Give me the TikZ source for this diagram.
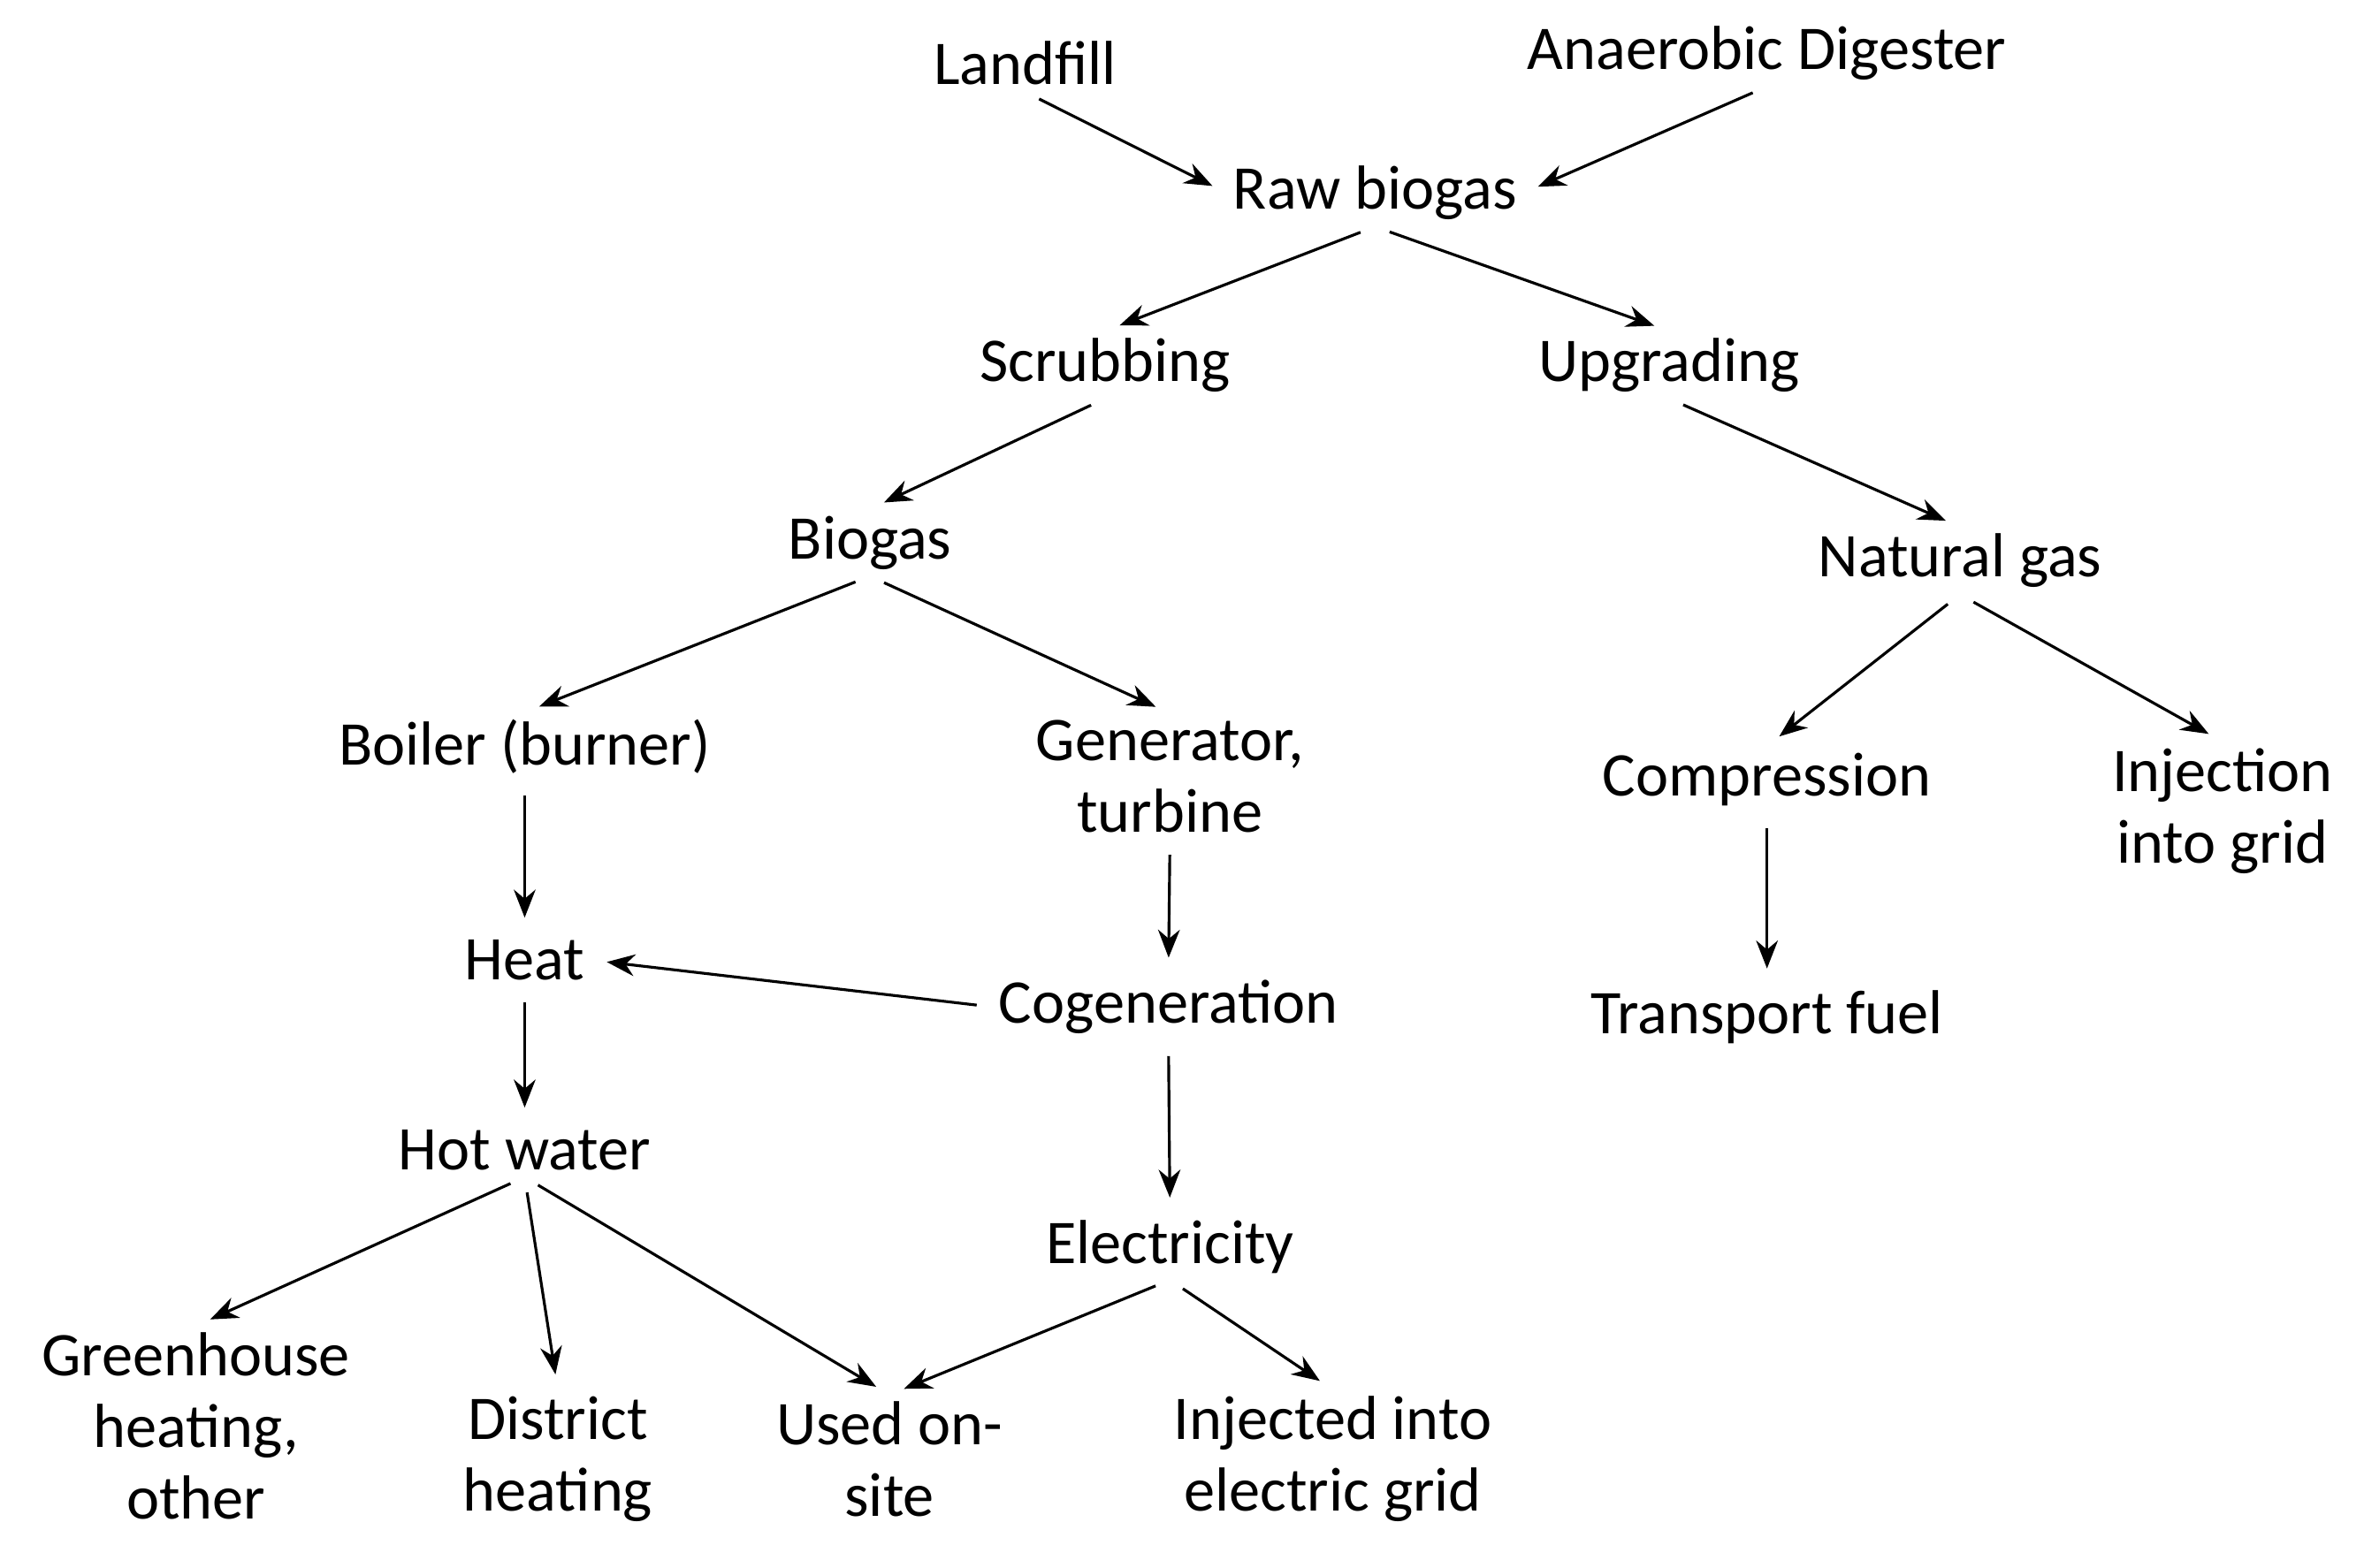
\documentclass[tikz,border=0pt]{standalone}
\usepackage{fontspec}
\setmainfont{Carlito}
\usetikzlibrary{arrows.meta}
\begin{document}
\begin{tikzpicture}[x=0.01705cm, y=-0.01705cm,
  box/.style={align=center, font=\fontsize{20}{23}\selectfont, inner sep=2pt},
  flow/.style={-{Stealth[length=9pt,width=7pt]}, line width=0.9pt, shorten >=5pt, shorten <=5pt}]
  \useasboundingbox (0,0) rectangle (1568,1040);

  % sources and treatment
  \node[box] (land) at (680,42) {Landfill};
  \node[box] (dig) at (1172,35) {Anaerobic Digester};
  \node[box] (raw) at (912,128) {Raw biogas};
  \node[box] (scrub) at (733,242) {Scrubbing};
  \node[box] (upg) at (1107,242) {Upgrading};
  \node[box] (bio) at (577,360) {Biogas};
  \node[box] (ng) at (1300,372) {Natural gas};

  % uses
  \node[box] (boiler) at (348,495) {Boiler (burner)};
  \node[box] (gen) at (776,515) {Generator,\\turbine};
  \node[box] (comp) at (1172,517) {Compression};
  \node[box] (inj) at (1474,538) {Injection\\into grid};
  \node[box] (heat) at (348,637) {Heat};
  \node[box] (cogen) at (775,668) {Cogeneration};
  \node[box] (fuel) at (1172,675) {Transport fuel};
  \node[box] (hot) at (348,763) {Hot water};
  \node[box] (elec) at (776,827) {Electricity};
  \node[box] (green) at (130,946) {Greenhouse\\heating,\\other};
  \node[box] (dist) at (370,968) {District\\heating};
  \node[box] (site) at (590,968) {Used on-\\site};
  \node[box] (egrid) at (884,968) {Injected into\\electric grid};

  % connectors
  \draw[flow] (land.south) -- (raw.west);
  \draw[flow] (dig.south) -- (raw.east);
  \draw[flow] (raw.south) -- (scrub.north);
  \draw[flow] (raw.south) -- (upg.north);
  \draw[flow] (scrub.south) -- (bio.north);
  \draw[flow] (upg.south) -- (ng.north);
  \draw[flow] (bio.south) -- (boiler.north);
  \draw[flow] (bio.south) -- (gen.north);
  \draw[flow] (ng.south) -- (comp.north);
  \draw[flow] (ng.south) -- (inj.north);
  \draw[flow] (boiler.south) -- (heat.north);
  \draw[flow] (gen.south) -- (cogen.north);
  \draw[flow] (cogen.west) -- (heat.east);
  \draw[flow] (comp.south) -- (fuel.north);
  \draw[flow] (heat.south) -- (hot.north);
  \draw[flow] (cogen.south) -- (elec.north);
  \draw[flow] (hot.south) -- (green.north);
  \draw[flow] (hot.south) -- (dist.north);
  \draw[flow] (hot.south) -- (site.north);
  \draw[flow] (elec.south) -- (site.north);
  \draw[flow] (elec.south) -- (egrid.north);
\end{tikzpicture}
\end{document}
